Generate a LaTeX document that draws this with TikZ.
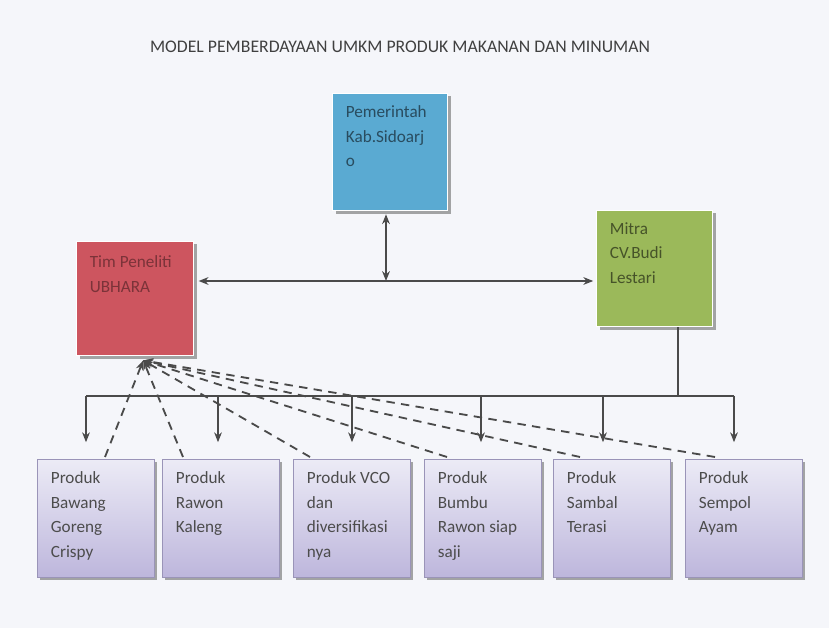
\documentclass[tikz,border=0pt]{standalone}
\usepackage{fontspec}
\setmainfont{Carlito}
\usetikzlibrary{arrows.meta,shadows,calc,positioning}

\definecolor{bgcol}{HTML}{F5F6FA}
\definecolor{govblue}{HTML}{5AAAD2}
\definecolor{teamred}{HTML}{CD555F}
\definecolor{partgreen}{HTML}{9BB95A}
\definecolor{linegray}{HTML}{4A4A4A}
\definecolor{prodtop}{HTML}{ECEBF6}
\definecolor{prodbot}{HTML}{BDB6DC}
\definecolor{prodedge}{HTML}{9A94B8}

\tikzset{
  unitbox/.style={draw=white, line width=1pt, inner sep=0pt, anchor=north west,
    minimum width=2.9cm, minimum height=2.9cm,
    drop shadow={shadow xshift=0.07cm, shadow yshift=-0.07cm, fill=black!50, opacity=0.7}},
  prodbox/.style={unitbox, draw=prodedge, line width=0.6pt, top color=prodtop, bottom color=prodbot,
    minimum width=2.925cm, minimum height=2.95cm},
  boxtext/.style={anchor=north west, align=left, inner sep=0pt,
    font=\fontsize{12.2pt}{17.7pt}\selectfont, xshift=0.34cm, yshift=-0.3cm},
  link/.style={draw=linegray, line width=1pt},
  arrowlink/.style={link, -{Stealth[length=7pt, width=5.5pt]}},
  dashlink/.style={link, line width=1.3pt, dash pattern=on 6pt off 4.5pt, -{Stealth[length=7pt, width=5.5pt]}}
}

\begin{document}
\begin{tikzpicture}[x=0.025cm, y=-0.025cm]
  \fill[bgcol] (0,0) rectangle (829,628);
  \useasboundingbox (0,0) rectangle (829,628);

  % Title
  \node[font=\fontsize{12.6pt}{15pt}\selectfont, text=black!75] (title) at (400,47)
    {MODEL PEMBERDAYAAN UMKM PRODUK MAKANAN DAN MINUMAN};

  % Top level
  \node[unitbox, fill=govblue, minimum width=2.875cm, minimum height=2.925cm,
    label={[boxtext, text=govblue!45!black]north west:{Pemerintah\\Kab.Sidoarj\\o}}] (gov) at (332,93) {};
  \node[unitbox, fill=teamred, minimum width=2.925cm, minimum height=2.85cm,
    label={[boxtext, text=teamred!60!black, yshift=-0.05cm]north west:{Tim Peneliti\\UBHARA}}] (team) at (76,241) {};
  \node[unitbox, fill=partgreen, minimum width=2.9cm, minimum height=2.9cm,
    label={[boxtext, text=partgreen!45!black]north west:{Mitra\\CV.Budi\\Lestari}}] (partner) at (596,210) {};

  % Products
  \node[prodbox, label={[boxtext, text=black!70]north west:{Produk\\Bawang\\Goreng\\Crispy}}] (p1) at (37,459) {};
  \node[prodbox, label={[boxtext, text=black!70]north west:{Produk\\Rawon\\Kaleng}}] (p2) at (162,459) {};
  \node[prodbox, label={[boxtext, text=black!70]north west:{Produk VCO\\dan\\diversifikasi\\nya}}] (p3) at (293,459) {};
  \node[prodbox, label={[boxtext, text=black!70]north west:{Produk\\Bumbu\\Rawon siap\\saji}}] (p4) at (424,459) {};
  \node[prodbox, label={[boxtext, text=black!70]north west:{Produk\\Sambal\\Terasi}}] (p5) at (553,459) {};
  \node[prodbox, label={[boxtext, text=black!70]north west:{Produk\\Sempol\\Ayam}}] (p6) at (685,459) {};

  % Links between the three parties
  \coordinate (mid) at (386,281);
  \draw[arrowlink, {Stealth[length=7pt, width=5.5pt]}-{Stealth[length=7pt, width=5.5pt]}, shorten <=3pt, shorten >=2pt]
    (team.east |- mid) -- (partner.west |- mid);
  \draw[arrowlink, {Stealth[length=7pt, width=5.5pt]}-{Stealth[length=7pt, width=5.5pt]}, shorten <=2pt]
    (mid |- gov.south) -- (mid);

  % Partner to products
  \coordinate (bus) at (678,396);
  \foreach \i/\dx in {1/49,2/56,3/59,4/57,5/50,6/49}
    \coordinate (a\i) at ($(p\i.north west)+(\dx,0)$);
  \draw[link] (partner.south -| bus) -- (bus);
  \draw[link] (a1 |- bus) -- (a6 |- bus);
  \foreach \i in {1,...,6}
    \draw[arrowlink, shorten >=0.42cm] (a\i |- bus) -- (a\i);

  % Products back to the research team
  \coordinate (tin) at ($(team.south)+(8,4)$);
  \foreach \i/\dx in {1/68,2/21,3/17,4/23,5/27,6/30}
    \draw[dashlink] ($(p\i.north west)+(\dx,-2)$) -- (tin);
\end{tikzpicture}
\end{document}
